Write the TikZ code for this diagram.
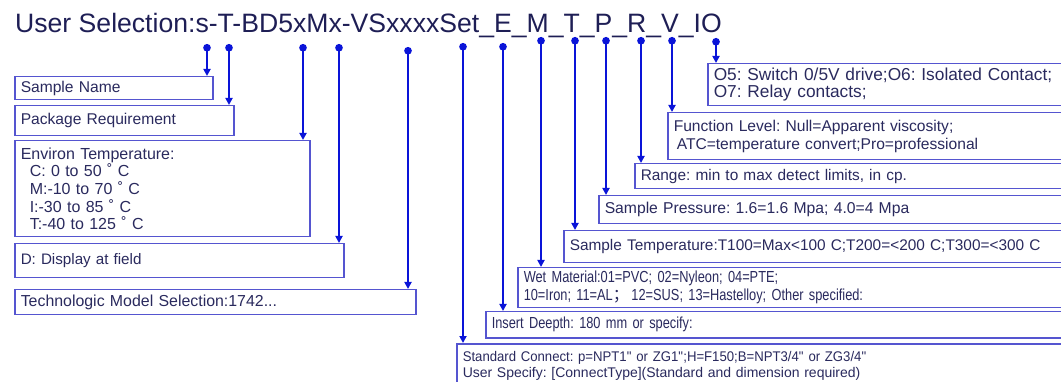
\documentclass[tikz,border=0pt]{standalone}
\usepackage{fontspec}
\setmainfont{Liberation Sans}
\newfontfamily\narrowfont[FakeStretch=0.8]{Liberation Sans}
\newfontfamily\condfont[FakeStretch=0.94]{Liberation Sans}
\newfontfamily\cjkfont{Noto Sans CJK SC}
\usetikzlibrary{arrows.meta}
\usepackage{xcolor}
\definecolor{titleblue}{HTML}{1E1E55}
\definecolor{textblue}{HTML}{2A2A5E}
\definecolor{frameblue}{HTML}{5555D0}
\definecolor{pinblue}{HTML}{0A14D8}
\frenchspacing

\begin{document}
\begin{tikzpicture}[x=1pt, y=-1pt]
        % ================= 样式定义 =================
        \tikzset{
            % 选型说明框:蓝边白底,文字左对齐
            selbox/.style={draw=frameblue, line width=1.5pt, fill=white, anchor=north west,
                inner xsep=6pt, inner ysep=0pt, align=left, text=textblue,
                font=\fontsize{15.6}{17.6}\selectfont},
            % 指示线:起点圆点,终点箭头
            pin/.style={draw=pinblue, line width=2.4pt,
                {Circle[length=7.5pt, width=7.5pt]}-{Triangle[length=7pt, width=7pt]}}
        }

        \useasboundingbox (0,0) rectangle (1061,382);
        \clip (0,0) rectangle (1061,382);

        % ================= 标题 =================
        \node[anchor=base west, inner sep=0pt, text=titleblue, font=\fontsize{26.6}{30}\selectfont]
            (title) at (15,33) {User Selection:s-T-BD5xMx-VSxxxxSet\_E\_M\_T\_P\_R\_V\_IO};

        % ================= 左侧说明框 =================
        \node[selbox, minimum width=198, minimum height=23, text width=186] (sname) at (14,76) {Sample Name};
        \node[selbox, minimum width=219, minimum height=30, text width=207] (pkg) at (14,105) {Package Requirement};
        \node[selbox, minimum width=295, minimum height=96, text width=283, inner xsep=5pt,
              font=\fontsize{16}{17.7}\selectfont] (env) at (14,140)
            {Environ Temperature:\\
             \hspace*{9pt}C: 0 to 50 ˚ C\\
             \hspace*{9pt}M:-10 to 70 ˚ C\\
             \hspace*{9pt}I:-30 to 85 ˚ C\\
             \hspace*{9pt}T:-40 to 125 ˚ C};
        \node[selbox, minimum width=329, minimum height=34, text width=317, font=\fontsize{15.2}{17}\selectfont] (disp) at (14,243) {D: Display at field};
        \node[selbox, minimum width=401, minimum height=25, text width=389, font=\fontsize{15.9}{17}\selectfont] (tech) at (14,289) {Technologic Model Selection:1742...};

        % ================= 右侧说明框 (伸出图外) =================
        \node[selbox, minimum width=400, minimum height=42, text width=388, inner xsep=4pt,
              font=\fontsize{17.3}{17}\selectfont] (io) at (707,63)
            {O5: Switch 0/5V drive;O6: Isolated Contact;\\O7: Relay contacts;};
        \node[selbox, minimum width=440, minimum height=47, text width=428] (func) at (667,112)
            {Function Level: Null=Apparent viscosity;\\\hspace*{3pt}ATC=temperature convert;Pro=professional};
        \node[selbox, minimum width=480, minimum height=25, text width=468, font=\fontsize{15.4}{17}\selectfont] (range) at (634,163)
            {Range: min to max detect limits, in cp.};
        \node[selbox, minimum width=500, minimum height=28, text width=488, font=\fontsize{15.7}{17}\selectfont] (press) at (598,195)
            {Sample Pressure: 1.6=1.6 Mpa; 4.0=4 Mpa};
        \node[selbox, minimum width=550, minimum height=32, text width=538, font=\fontsize{15.4}{17}\selectfont] (stemp) at (563,230)
            {Sample Temperature:T100=Max<100 C;T200=<200 C;T300=<300 C};
        \node[selbox, minimum width=600, minimum height=40, text width=588, font=\narrowfont\fontsize{16}{18}\selectfont] (wet) at (517,267)
            {Wet Material:01=PVC; 02=Nyleon; 04=PTE;\\10=Iron; 11=AL{\cjkfont ；}\,12=SUS; 13=Hastelloy; Other specified:};
        \node[selbox, minimum width=620, minimum height=26, text width=608, font=\narrowfont\fontsize{16}{17}\selectfont] (depth) at (485,311)
            {Insert Deepth: 180 mm or specify:};
        \node[selbox, minimum width=650, minimum height=44, text width=638, inner xsep=5pt,
              font=\fontsize{14}{16}\selectfont] (conn) at (456,343)
            {{\condfont Standard Connect: p=NPT1\textquotedbl{} or ZG1\textquotedbl;H=F150;B=NPT3/4\textquotedbl{} or ZG3/4\textquotedbl}\\User Specify: [ConnectType](Standard and dimension required)};

        % ================= 指示线 (标题字符 -> 说明框) =================
        \foreach \px/\py/\target in {207/44/sname, 229/44/pkg, 303/44/env, 339/44/disp, 408/47/tech,
                463/43/conn, 503/43/depth, 541/37/wet, 575/37/stemp, 606/37/press,
                641/37/range, 672/37/func, 716/38/io} {
            \coordinate (p_\target) at (\px,\py);
            \draw[pin] (p_\target) -- (p_\target |- \target.north);
        }

\end{tikzpicture}
\end{document}
